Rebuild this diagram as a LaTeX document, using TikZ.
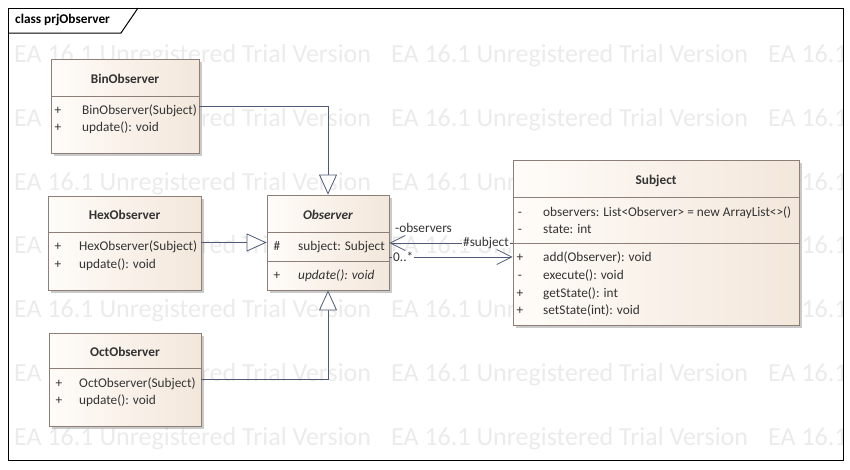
\documentclass[tikz,border=0pt]{standalone}
\usepackage{fontspec}
\setmainfont{Carlito}
\usetikzlibrary{arrows.meta,shadows}

\definecolor{bordo}{HTML}{8E7E78}
\definecolor{fondoA}{HTML}{FFFCF9}
\definecolor{fondoB}{HTML}{F3E7DB}
\definecolor{linea}{HTML}{4E5A78}
\definecolor{testo}{HTML}{333333}
\definecolor{filigrana}{HTML}{EBEBEB}

\tikzset{
  classe/.style={rectangle, draw=bordo, line width=0.8pt, left color=fondoA, right color=fondoB, inner sep=0pt,
    drop shadow={shadow xshift=3pt, shadow yshift=-3pt, fill=black!35, opacity=0.6}},
  titolo/.style={font=\fontsize{13.3}{16}\selectfont\bfseries, text=testo, inner sep=0pt},
  riga/.style={anchor=west, text=testo, inner sep=0pt, text height=9.5pt, text depth=1pt},
  segno/.style={text=testo, inner sep=0pt, text height=9.5pt, text depth=1pt},
  gen/.style={draw=linea, line width=0.8pt, -{Triangle[open, length=20pt, width=18pt, fill=white]}},
  assoc/.style={draw=linea, line width=0.8pt, -{Straight Barb[length=15pt, width=15pt]}},
  ruolo/.style={text=testo, inner sep=1pt, text height=9.5pt, text depth=1pt},
  filig/.style={anchor=west, text=filigrana, inner sep=0pt, font=\fontsize{26}{30}\selectfont}
}

\begin{document}
\begin{tikzpicture}[x=1pt, y=-1pt, font=\fontsize{13.3}{16}\selectfont]
\useasboundingbox (0,0) rectangle (850,469);

% Filigrana
\begin{scope}
\clip (8,8) rectangle (843,460);
\foreach \r in {0,...,6}
  \foreach \c in {0,1,2}
    \node[filig] (w-\r-\c) at (14+377*\c, 56+63.7*\r) {EA 16.1 Unregistered Trial Version};
\end{scope}

% Cornice
\draw[line width=1pt] (8,8) rectangle (843,460);
\draw[line width=1pt] (8,33) -- (121,33) -- (138,8);
\node[anchor=west, inner sep=0pt, font=\fontsize{13.3}{16}\selectfont\bfseries] (cornice) at (15,20) {class prjObserver};

% Classi
\node[classe, minimum width=148pt, minimum height=94pt] (bin) at (125,106) {};
\node[classe, minimum width=153pt, minimum height=94pt] (hex) at (124.5,243) {};
\node[classe, minimum width=152pt, minimum height=93pt] (oct) at (125,379.5) {};
\node[classe, minimum width=122pt, minimum height=95pt] (obs) at (328,242.5) {};
\node[classe, minimum width=286pt, minimum height=165pt] (subj) at (656,242.5) {};

% Separatori
\draw[bordo, line width=0.8pt] (bin.west |- 0,96) -- (bin.east |- 0,96);
\draw[bordo, line width=0.8pt] (hex.west |- 0,232) -- (hex.east |- 0,232);
\draw[bordo, line width=0.8pt] (oct.west |- 0,368) -- (oct.east |- 0,368);
\draw[bordo, line width=0.8pt] (obs.west |- 0,232) -- (obs.east |- 0,232);
\draw[bordo, line width=0.8pt] (obs.west |- 0,261) -- (obs.east |- 0,261);
\draw[bordo, line width=0.8pt] (subj.west |- 0,197) -- (subj.east |- 0,197);
\draw[bordo, line width=0.8pt] (subj.west |- 0,243) -- (subj.east |- 0,243);

% BinObserver
\node[titolo] (bin-t) at (125,79) {BinObserver};
\node[segno] at (58,110) {+};
\node[riga] (bin-1) at (82,110) {BinObserver(Subject)};
\node[segno] at (58,127) {+};
\node[riga] (bin-2) at (82,127) {update(): void};

% HexObserver
\node[titolo] (hex-t) at (124.5,215) {HexObserver};
\node[segno] at (58,246) {+};
\node[riga] (hex-1) at (79,246) {HexObserver(Subject)};
\node[segno] at (58,264) {+};
\node[riga] (hex-2) at (79,264) {update(): void};

% OctObserver
\node[titolo] (oct-t) at (125,352) {OctObserver};
\node[segno] at (59,383) {+};
\node[riga] (oct-1) at (79,383) {OctObserver(Subject)};
\node[segno] at (59,400) {+};
\node[riga] (oct-2) at (79,400) {update(): void};

% Observer
\node[titolo, font=\fontsize{13.3}{16}\selectfont\bfseries\itshape] (obs-t) at (328,215) {Observer};
\node[segno] at (277,246) {\#};
\node[riga] (obs-1) at (298,246) {subject: Subject};
\node[segno] at (277,275) {+};
\node[riga, font=\fontsize{13.3}{16}\selectfont\itshape] (obs-2) at (298,275) {update(): void};

% Subject
\node[titolo] (subj-t) at (656,181) {Subject};
\node[segno] at (520,212) {-};
\node[riga] (subj-1) at (543,212) {observers: List<Observer> = new ArrayList<>()};
\node[segno] at (520,229) {-};
\node[riga] (subj-2) at (543,229) {state: int};
\node[segno] at (520,257) {+};
\node[riga] (subj-3) at (543,257) {add(Observer): void};
\node[segno] at (520,275) {-};
\node[riga] (subj-4) at (543,275) {execute(): void};
\node[segno] at (520,293) {+};
\node[riga] (subj-5) at (543,293) {getState(): int};
\node[segno] at (520,310) {+};
\node[riga] (subj-6) at (543,310) {setState(int): void};

% Generalizzazioni
\draw[gen] (bin.east) -| (obs.north);
\draw[gen] (hex.east |- obs.west) -- (obs.west);
\draw[gen] (oct.east) -| (obs.south);

% Associazioni
\draw[assoc] (subj.west |- 0,243) -- (obs.east |- 0,243);
\draw[assoc] (obs.east |- 0,257) -- (subj.west |- 0,257);
\node[ruolo, anchor=west] (r-obs) at (394,228) {-observers};
\node[ruolo, anchor=east, fill=white] (r-subj) at (510,242) {\#subject};
\node[ruolo, anchor=west, fill=white] (r-molt) at (392,257) {0..*};

\end{tikzpicture}
\end{document}
